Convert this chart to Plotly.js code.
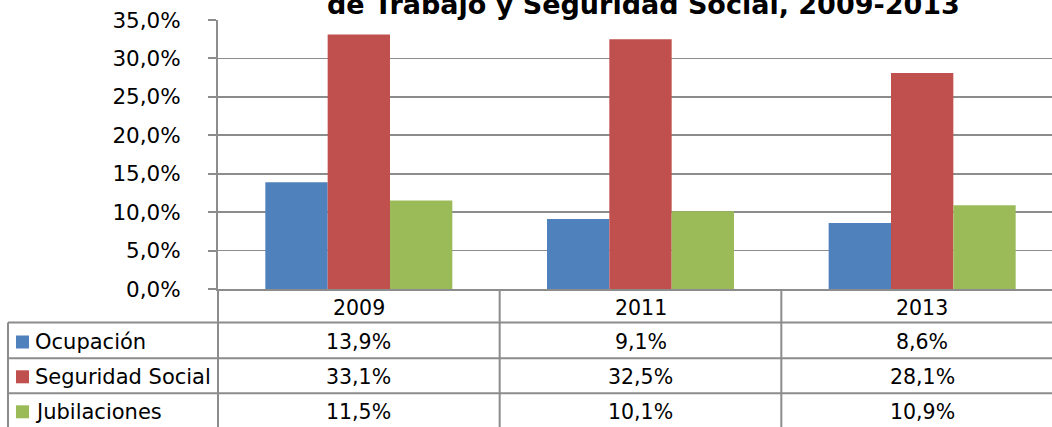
<!DOCTYPE html>
<html>
<head>
<meta charset="utf-8">
<script src="https://cdn.plot.ly/plotly-3.0.1.min.js"></script>
<style>
html,body{margin:0;padding:0;overflow:hidden;background:#fff;width:1052px;height:427px;}
#chart{width:1063px;height:427px;}
</style>
</head>
<body>
<div id="chart"></div>
<script>
var categories = ["2009", "2011", "2013"];
var seriesNames = ["Ocupación", "Seguridad Social", "Jubilaciones"];
var ocupacion = [13.9, 9.1, 8.6];
var seguridadSocial = [33.1, 32.5, 28.1];
var jubilaciones = [11.5, 10.1, 10.9];
var seriesColors = ["#4F81BD", "#C0504D", "#9BBB59"];
var titleText = "de Trabajo y Seguridad Social, 2009-2013";

var allSeries = [ocupacion, seguridadSocial, jubilaciones];

var W = 1063, H = 427, ML = 218, MR = 0, MT = 20, MB = 138;
var PW = W - ML - MR, PH = H - MT - MB;
function px2x(px){ return (px - ML) / PW; }
function py2y(py){ return (H - MB - py) / PH; }

var FONT = "DejaVu Sans, Verdana, sans-serif";
var GRID = "#8c8c8c";

var traces = allSeries.map(function(vals, i){
  return {
    type: "bar",
    x: categories,
    y: vals,
    name: seriesNames[i],
    marker: {color: seriesColors[i], line: {width: 0}},
    hoverinfo: "none"
  };
});

function fmt(v){ return v.toFixed(1).replace(".", ",") + "%"; }

var shapes = [];
var annotations = [];

// title
annotations.push({
  xref: "paper", yref: "paper", x: px2x(643), y: py2y(4),
  xanchor: "center", yanchor: "middle", showarrow: false,
  text: "<b>" + titleText + "</b>",
  font: {family: FONT, size: 27, color: "#000"}
});

var lineStyle = {color: GRID, width: 2};
var bottomY = py2y(440);
var rowLines = [322.5, 358.3, 393.3];
var rowCenters = [342, 376.8, 411.8];
var headerCenter = 307.5;
var tableLeft = px2x(8);

// axis line extended through table
shapes.push({type: "line", xref: "paper", yref: "paper", x0: 0, x1: 0, y0: 0, y1: bottomY, line: lineStyle});
// left border of table
shapes.push({type: "line", xref: "paper", yref: "paper", x0: tableLeft, x1: tableLeft, y0: py2y(rowLines[0]), y1: bottomY, line: lineStyle});
// category dividers
for (var c = 0; c < categories.length - 1; c++) {
  shapes.push({type: "line", xref: "x", yref: "paper", x0: c + 0.5, x1: c + 0.5, y0: 0, y1: bottomY, line: lineStyle});
}
// row lines
rowLines.forEach(function(py){
  shapes.push({type: "line", xref: "paper", yref: "paper", x0: tableLeft, x1: 1, y0: py2y(py), y1: py2y(py), line: lineStyle});
});

// header labels
categories.forEach(function(cat, ci){
  annotations.push({
    xref: "x", yref: "paper", x: ci, y: py2y(headerCenter),
    xanchor: "center", yanchor: "middle", showarrow: false,
    text: cat, font: {family: FONT, size: 20.5, color: "#000"}
  });
});

// rows
allSeries.forEach(function(vals, si){
  var yc = rowCenters[si];
  shapes.push({
    type: "rect", xref: "paper", yref: "paper",
    x0: px2x(16), x1: px2x(29), y0: py2y(yc - 6.5), y1: py2y(yc + 6.5),
    fillcolor: seriesColors[si], line: {width: 0}
  });
  annotations.push({
    xref: "paper", yref: "paper", x: px2x(33), y: py2y(yc),
    xanchor: "left", yanchor: "middle", showarrow: false,
    text: seriesNames[si], font: {family: FONT, size: 21, color: "#000"}
  });
  vals.forEach(function(v, ci){
    annotations.push({
      xref: "x", yref: "paper", x: ci, y: py2y(yc),
      xanchor: "center", yanchor: "middle", showarrow: false,
      text: fmt(v), font: {family: FONT, size: 20.5, color: "#000"}
    });
  });
});

var layout = {
  width: W, height: H,
  margin: {l: ML, r: MR, t: MT, b: MB, pad: 0},
  paper_bgcolor: "#fff", plot_bgcolor: "#fff",
  separators: ",.",
  barmode: "group",
  bargap: 0.336,
  bargroupgap: 0,
  showlegend: false,
  font: {family: FONT, color: "#000"},
  xaxis: {
    type: "category",
    range: [-0.5, 2.5],
    showticklabels: false,
    ticks: "",
    showgrid: false,
    zeroline: false,
    showline: true, linecolor: GRID, linewidth: 2,
    fixedrange: true
  },
  yaxis: {
    range: [0, 35],
    dtick: 5,
    tick0: 0,
    tickformat: ".1f",
    ticksuffix: "%",
    ticks: "outside", ticklen: 8, tickcolor: GRID, tickwidth: 2,
    ticklabelstandoff: 23,
    tickfont: {family: FONT, size: 21.5, color: "#000"},
    showgrid: true, gridcolor: GRID, gridwidth: 1.6,
    zeroline: false,
    showline: true, linecolor: GRID, linewidth: 2,
    fixedrange: true
  },
  shapes: shapes,
  annotations: annotations
};

Plotly.newPlot("chart", traces, layout, {displayModeBar: false, staticPlot: true});
</script>
</body>
</html>
